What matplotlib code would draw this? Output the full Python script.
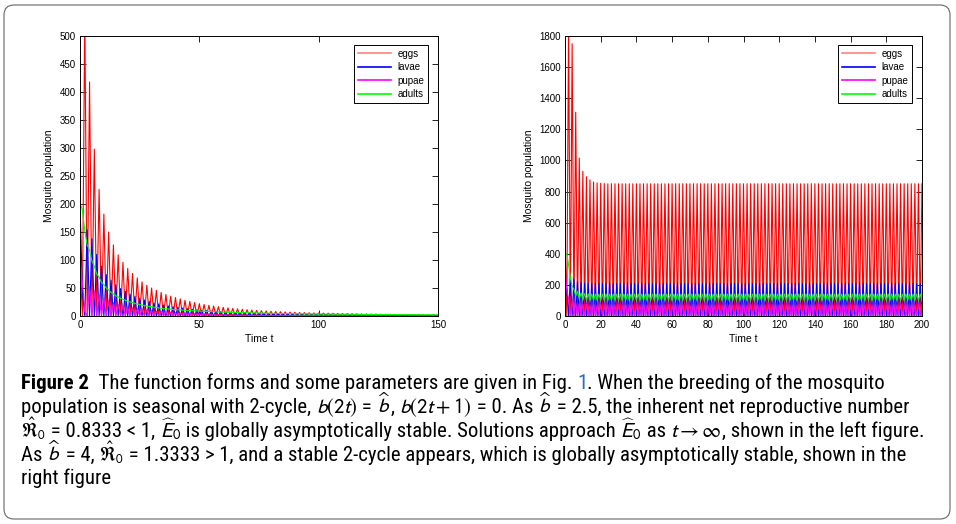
import numpy as np
import matplotlib
matplotlib.use('Agg')
import matplotlib.pyplot as plt
from matplotlib import font_manager as fm
from matplotlib.patches import FancyBboxPatch
from matplotlib.transforms import IdentityTransform

# ---- left panel: b = 2.5, t = 0..150, values at even / odd steps ----
left_eggs_even = [100, 540, 418, 298, 226, 182, 150, 127, 109, 96,
                  85, 76, 68, 61, 55, 50, 46, 42, 38.5, 35.5,
                  33, 30.5, 28, 26, 24, 22, 20.5, 19, 17.8, 16.6,
                  15.5, 14.5, 13.6, 12.8, 12, 11.3, 10.6, 10, 9.5, 9,
                  8.5, 8.1, 7.7, 7.3, 7, 6.7, 6.4, 6.1, 5.9, 5.6,
                  5.4, 5.2, 5, 4.8, 4.6, 4.4, 4.3, 4.1, 4, 3.8,
                  3.7, 3.6, 3.5, 3.3, 3.2, 3.1, 3, 2.9, 2.8, 2.7,
                  2.6, 2.6, 2.5, 2.4, 2.3, 2.3]
left_eggs_odd = [0] * 75

left_lavae_even = [200] + [0] * 75
left_lavae_odd = [45, 154, 138, 110, 89, 74, 64, 56, 49, 44,
                  39, 35, 31.5, 28.5, 26, 23.5, 21.5, 19.7, 18, 16.6,
                  15.3, 14.1, 13, 12, 11.1, 10.3, 9.5, 8.9, 8.3, 7.7,
                  7.2, 6.8, 6.4, 6, 5.6, 5.3, 5, 4.7, 4.5, 4.2,
                  4, 3.8, 3.6, 3.5, 3.3, 3.2, 3, 2.9, 2.8, 2.7,
                  2.6, 2.5, 2.4, 2.3, 2.2, 2.1, 2.1, 2, 1.9, 1.8,
                  1.8, 1.7, 1.7, 1.6, 1.6, 1.5, 1.5, 1.4, 1.4, 1.3,
                  1.3, 1.3, 1.2, 1.2, 1.2]

left_pupae_even = [100, 8, 52, 45, 38, 32, 27, 23.5, 20.5, 18,
                   16, 14.3, 12.8, 11.5, 10.4, 9.4, 8.5, 7.8, 7.1, 6.5,
                   6, 5.5, 5.1, 4.7, 4.3, 4, 3.7, 3.5, 3.2, 3,
                   2.8, 2.6, 2.5, 2.3, 2.2, 2.1, 2, 1.9, 1.8, 1.7,
                   1.6, 1.5, 1.45, 1.4, 1.3, 1.25, 1.2, 1.15, 1.1, 1.05,
                   1, 1, 0.95, 0.9, 0.9, 0.85, 0.8, 0.8, 0.75, 0.75,
                   0.7, 0.7, 0.7, 0.65, 0.65, 0.6, 0.6, 0.6, 0.55, 0.55,
                   0.55, 0.5, 0.5, 0.5, 0.5, 0.45]
left_pupae_odd = [60] + [0] * 74

left_adults_even = [200, 152, 118, 89, 69, 56, 46.5, 39.5, 34, 30,
                    26.5, 24, 21.5, 19.5, 17.8, 16.3, 15, 13.8, 12.9, 12.1,
                    11.4, 10.8, 10.2, 9.7, 9.2, 8.7, 8.3, 7.9, 7.5, 7.2,
                    6.9, 6.6, 6.4, 6.1, 5.9, 5.7, 5.5, 5.3, 5.1, 4.9,
                    4.8, 4.6, 4.5, 4.4, 4.2, 4.1, 4, 3.9, 3.8, 3.7,
                    3.6, 3.5, 3.4, 3.3, 3.3, 3.2, 3.1, 3, 3, 2.9,
                    2.8, 2.8, 2.7, 2.6, 2.6, 2.5, 2.5, 2.4, 2.4, 2.3,
                    2.3, 2.2, 2.2, 2.1, 2.1, 2.1]
left_adults_odd = [190, 127, 98, 75, 60, 50, 42, 36, 31.5, 28,
                   25, 22.5, 20.5, 18.5, 17, 15.6, 14.4, 13.3, 12.5, 11.7,
                   11.1, 10.5, 9.9, 9.4, 8.9, 8.5, 8.1, 7.7, 7.3, 7,
                   6.7, 6.5, 6.2, 6, 5.8, 5.6, 5.4, 5.2, 5, 4.8,
                   4.7, 4.5, 4.4, 4.3, 4.1, 4, 3.9, 3.8, 3.7, 3.6,
                   3.5, 3.4, 3.4, 3.3, 3.2, 3.1, 3, 3, 2.9, 2.8,
                   2.8, 2.7, 2.6, 2.6, 2.5, 2.5, 2.4, 2.4, 2.3, 2.3,
                   2.2, 2.2, 2.1, 2.1, 2.1]

# ---- right panel: b = 4, t = 0..200, settles on a 2-cycle ----
right_eggs_even = [500, 1850, 1750, 1310, 1015, 930, 895, 875, 862, 856, 853, 851] + [850] * 89
right_eggs_odd = [0] * 100
right_lavae_even = [200] + [0] * 100
right_lavae_odd = [175, 248, 236, 220, 214, 211, 210] + [209] * 93
right_pupae_even = [300, 110, 100, 86, 79, 76, 74] + [73] * 94
right_pupae_odd = [170] + [0] * 99
right_adults_even = [400, 330, 190, 130, 110, 103, 101] + [100] * 94
right_adults_odd = [400, 245, 172, 158, 148, 144, 142] + [141] * 93

labels = ['eggs', 'lavae', 'pupae', 'adults']
colors = ['#ff0000', '#0000ff', '#ff00ff', '#00ff00']


def join(even, odd):
    s = np.zeros(len(even) + len(odd))
    s[0::2] = even
    s[1::2] = odd
    return s


left = [join(left_eggs_even, left_eggs_odd), join(left_lavae_even, left_lavae_odd),
        join(left_pupae_even, left_pupae_odd), join(left_adults_even, left_adults_odd)]
right = [join(right_eggs_even, right_eggs_odd), join(right_lavae_even, right_lavae_odd),
         join(right_pupae_even, right_pupae_odd), join(right_adults_even, right_adults_odd)]

plt.rcParams['font.family'] = ['Liberation Sans', 'DejaVu Sans']
plt.rcParams['mathtext.fontset'] = 'stixsans'

W, H = 956, 524
fig = plt.figure(figsize=(W / 100, H / 100), dpi=100)


def panel(rect, data, xmax, ymax, xticks, yticks):
    ax = fig.add_axes(rect)
    for s, lab, c in zip(data, labels, colors):
        ax.plot(np.arange(len(s)), s, color=c, lw=0.8, label=lab)
    ax.set_xlim(0, xmax)
    ax.set_ylim(0, ymax)
    ax.set_xticks(xticks)
    ax.set_yticks(yticks)
    ax.tick_params(direction='in', top=True, right=True, length=4, width=0.6,
                   labelsize=7, pad=3)
    for sp in ax.spines.values():
        sp.set_linewidth(0.7)
    ax.set_xlabel('Time t', fontsize=7.5, labelpad=3)
    ax.set_ylabel('Mosquito population', fontsize=7.5, labelpad=4)
    leg = ax.legend(loc='upper right', bbox_to_anchor=(0.972, 0.968), borderaxespad=0,
                    fontsize=7, fancybox=False, edgecolor='black', framealpha=1,
                    handlelength=3.4, borderpad=0.4, labelspacing=0.35, handletextpad=0.6)
    leg.get_frame().set_linewidth(0.7)
    leg.get_lines()[0].set_color('#ff8080')
    for ln in leg.get_lines():
        ln.set_linewidth(1.2)
    return ax


panel([80 / W, 1 - 316 / H, 358 / W, 280 / H], left, 150, 500,
      [0, 50, 100, 150], np.arange(0, 501, 50))
panel([565 / W, 1 - 316 / H, 357 / W, 280 / H], right, 200, 1800,
      np.arange(0, 201, 20), np.arange(0, 1801, 200))

# frame round figure and caption
frame = FancyBboxPatch((4, 5), 946, 514, boxstyle='round,pad=0,rounding_size=10',
                       transform=IdentityTransform(), fill=False, ec='#666666', lw=0.8)
fig.add_artist(frame)


def pick_caption_font():
    # a narrow sans is closest to the journal's caption face
    tries = [('Liberation Sans Narrow', 'normal'), ('Roboto Condensed', 'normal'),
             ('Open Sans Condensed', 'normal'), ('Noto Sans Condensed', 'normal'),
             ('Noto Sans', 'condensed'), ('DejaVu Sans', 'condensed'),
             ('Open Sans', 'condensed')]
    for fam, st in tries:
        try:
            path = fm.findfont(fm.FontProperties(family=fam, stretch=st),
                               fallback_to_default=False)
        except ValueError:
            continue
        low = path.lower()
        if 'narrow' in low or 'condensed' in low or 'cond' in low:
            return fam, st
    return 'Liberation Sans', 'normal'


cap_family, cap_stretch = pick_caption_font()
cap_font = [cap_family, 'DejaVu Sans']

line1 = [('Figure 2', dict(fontweight='bold')),
         ('  The function forms and some parameters are given in Fig. ', {}),
         ('1', dict(color='#2a6ebb')),
         ('. When the breeding of the mosquito', {})]
other_lines = [
    r'population is seasonal with 2-cycle, $b(2t)$ = $\widehat{b}$, $b(2t+1)$ = 0. As $\widehat{b}$ = 2.5, the inherent net reproductive number',
    r'$\hat{\Re}_0$ = 0.8333 < 1, $\widehat{E}_0$ is globally asymptotically stable. Solutions approach $\widehat{E}_0$ as $t \rightarrow \infty$, shown in the left figure.',
    r'As $\widehat{b}$ = 4, $\hat{\Re}_0$ = 1.3333 > 1, and a stable 2-cycle appears, which is globally asymptotically stable, shown in the',
    'right figure',
]
baselines = [389, 413, 437, 461, 484]
ref_ends = [913, 910, 943, 860]   # right ends of the first four caption lines
x_left = 21

renderer = fig.canvas.get_renderer()


def split_math(line):
    parts = line.split('$')
    out = []
    for i, p in enumerate(parts):
        if not p:
            continue
        if i % 2:
            # the hatted R sits a touch smaller so it clears the line above
            out.append(('$' + p + '$', dict(scale=0.9 if r'\Re' in p else 1.0)))
        else:
            out.append((p, {}))
    return out


def draw_pieces(y, pieces, size):
    x = x_left
    arts = []
    for s, kw in pieces:
        kw = dict(kw)
        scale = kw.pop('scale', 1.0)
        t = fig.text(x / W, 1 - y / H, s, fontsize=size * scale, va='baseline',
                     family=cap_font, fontstretch=cap_stretch, **kw)
        x = t.get_window_extent(renderer).x1
        arts.append(t)
    return x, arts


all_lines = [line1] + [split_math(s) for s in other_lines]

# fit one caption size so the lines span about the same total width as the original
total = 0
for y, pieces in zip(baselines[:4], all_lines[:4]):
    end, arts = draw_pieces(y, pieces, 12)
    total += end - x_left
    for a in arts:
        a.remove()
size = 12 * sum(e - x_left for e in ref_ends) / total
for y, pieces in zip(baselines, all_lines):
    draw_pieces(y, pieces, size)

fig.savefig('out.png', dpi=100)
